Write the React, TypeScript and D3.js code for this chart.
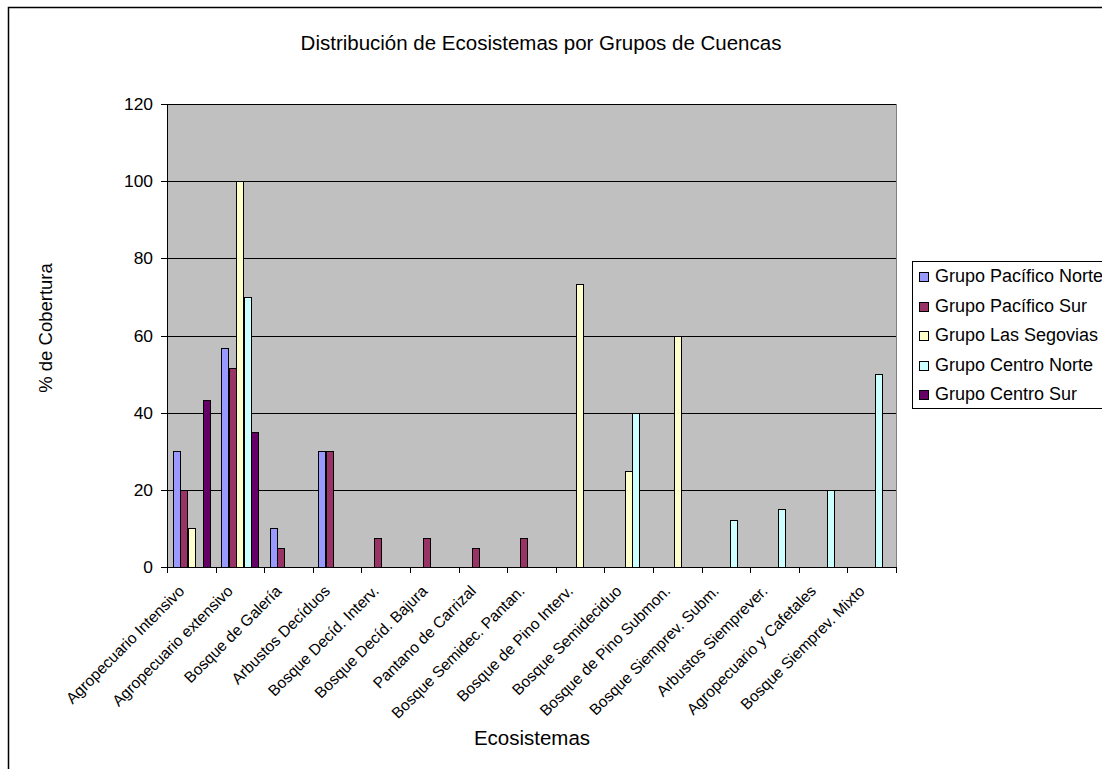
import React from "react";
import * as d3 from "d3";

// Ecosystem categories (x axis)
const categories = [
  "Agropecuario Intensivo",
  "Agropecuario extensivo",
  "Bosque de Galería",
  "Arbustos Decíduos",
  "Bosque Decíd. Interv.",
  "Bosque Decíd. Bajura",
  "Pantano de Carrizal",
  "Bosque Semidec. Pantan.",
  "Bosque de Pino Interv.",
  "Bosque Semideciduo",
  "Bosque de Pino Submon.",
  "Bosque Siemprev. Subm.",
  "Arbustos Siemprever.",
  "Agropecuario y Cafetales",
  "Bosque Siemprev. Mixto",
];

// Series names and colours
const seriesNames = [
  "Grupo Pacífico Norte",
  "Grupo Pacífico Sur",
  "Grupo Las Segovias",
  "Grupo Centro Norte",
  "Grupo Centro Sur",
];
const seriesColors = ["#9999FF", "#993366", "#FFFFCC", "#CCFFFF", "#660066"];

// % coverage per basin group (null = no bar)
const pacificoNorte = [30, 56.7, 10, 30, null, null, null, null, null, null, null, null, null, null, null];
const pacificoSur = [20, 51.7, 5, 30, 7.5, 7.5, 5, 7.5, null, null, null, null, null, null, null];
const lasSegovias = [10, 100, null, null, null, null, null, null, 73.3, 25, 60, null, null, null, null];
const centroNorte = [null, 70, null, null, null, null, null, null, null, 40, null, 12.3, 15, 20, 50];
const centroSur = [43.2, 35, null, null, null, null, null, null, null, null, null, null, null, null, null];

const seriesValues = [pacificoNorte, pacificoSur, lasSegovias, centroNorte, centroSur];

const yTicks = [0, 20, 40, 60, 80, 100, 120];

const FONT = "'Liberation Sans', Arial, sans-serif";

export default function App() {
  const W = 1102;
  const H = 769;
  const left = 167;
  const right = 896;
  const top = 104;
  const bottom = 567;

  const x = d3.scaleBand<string>().domain(categories).range([left, right]).paddingInner(0).paddingOuter(0);
  const xs = d3
    .scaleBand<number>()
    .domain(d3.range(seriesNames.length))
    .range([0, x.bandwidth()])
    .paddingInner(0)
    .paddingOuter(0.75);
  const y = d3.scaleLinear().domain([0, 120]).range([bottom, top]);

  const bars: React.ReactNode[] = [];
  seriesValues.forEach((vals, si) => {
    vals.forEach((v, ci) => {
      if (v == null) return;
      const x0 = (x(categories[ci]) as number) + (xs(si) as number);
      const y0 = y(v);
      bars.push(
        <rect
          key={`b-${si}-${ci}`}
          x={Math.round(x0) + 0.5}
          y={Math.round(y0) + 0.5}
          width={Math.round(xs.bandwidth())}
          height={Math.round(bottom) - Math.round(y0)}
          fill={seriesColors[si]}
          stroke="#000"
          strokeWidth={1}
        />
      );
    });
  });

  const boundaries = d3.range(categories.length + 1).map((i) => left + i * x.step());

  return (
    <svg
      width={W}
      height={H}
      style={{ position: "absolute", left: 0, top: 0, background: "#fff" }}
      fontFamily={FONT}
    >
      {/* chart area frame */}
      <rect x={8.5} y={7.5} width={1120} height={790} fill="#fff" stroke="#000" strokeWidth={1.5} />

      {/* title */}
      <text x={541} y={50} textAnchor="middle" fontSize={20.5} fill="#000">
        Distribución de Ecosistemas por Grupos de Cuencas
      </text>

      {/* plot area */}
      <rect x={left} y={top} width={right - left} height={bottom - top} fill="#C0C0C0" stroke="#808080" strokeWidth={1} shapeRendering="crispEdges" />

      {/* gridlines */}
      {yTicks.filter((t) => t > 0).map((t) => (
        <line key={`g-${t}`} x1={left} x2={right} y1={Math.round(y(t)) + 0.5} y2={Math.round(y(t)) + 0.5} stroke="#000" strokeWidth={1} />
      ))}

      {bars}

      {/* y axis */}
      <line x1={left + 0.5} x2={left + 0.5} y1={top} y2={bottom} stroke="#000" strokeWidth={1} />
      {yTicks.map((t) => (
        <g key={`yt-${t}`}>
          <line x1={left - 6} x2={left} y1={Math.round(y(t)) + 0.5} y2={Math.round(y(t)) + 0.5} stroke="#000" strokeWidth={1} />
          <text x={153} y={y(t)} dy="0.35em" textAnchor="end" fontSize={17.4} fill="#000">
            {t}
          </text>
        </g>
      ))}

      {/* x axis */}
      <line x1={left} x2={right + 0.5} y1={bottom + 0.5} y2={bottom + 0.5} stroke="#000" strokeWidth={1} />
      {boundaries.map((bx, i) => (
        <line key={`xt-${i}`} x1={Math.round(bx) + 0.5} x2={Math.round(bx) + 0.5} y1={bottom} y2={bottom + 6} stroke="#000" strokeWidth={1} />
      ))}
      {categories.map((c) => {
        const cx = (x(c) as number) + x.bandwidth() / 2 - 6;
        const cy = 592;
        return (
          <text
            key={`xl-${c}`}
            x={cx}
            y={cy}
            transform={`rotate(-45 ${cx} ${cy})`}
            textAnchor="end"
            fontSize={15.6}
            fill="#000"
          >
            {c}
          </text>
        );
      })}

      {/* axis titles */}
      <text x={532} y={745} textAnchor="middle" fontSize={20.5} fill="#000">
        Ecosistemas
      </text>
      <text
        x={52}
        y={328}
        transform="rotate(-90 52 328)"
        textAnchor="middle"
        fontSize={18.5}
        fill="#000"
      >
        % de Cobertura
      </text>

      {/* legend */}
      <rect x={912.5} y={261.5} width={220} height={147} fill="#fff" stroke="#000" strokeWidth={1} />
      {seriesNames.map((name, i) => {
        const by = 282 + i * 29.5;
        return (
          <g key={`lg-${i}`}>
            <rect x={919.5} y={Math.round(by - 10) + 0.5} width={9} height={9} fill={seriesColors[i]} stroke="#000" strokeWidth={1} />
            <text x={935} y={by} fontSize={18} fill="#000">
              {name}
            </text>
          </g>
        );
      })}
    </svg>
  );
}
